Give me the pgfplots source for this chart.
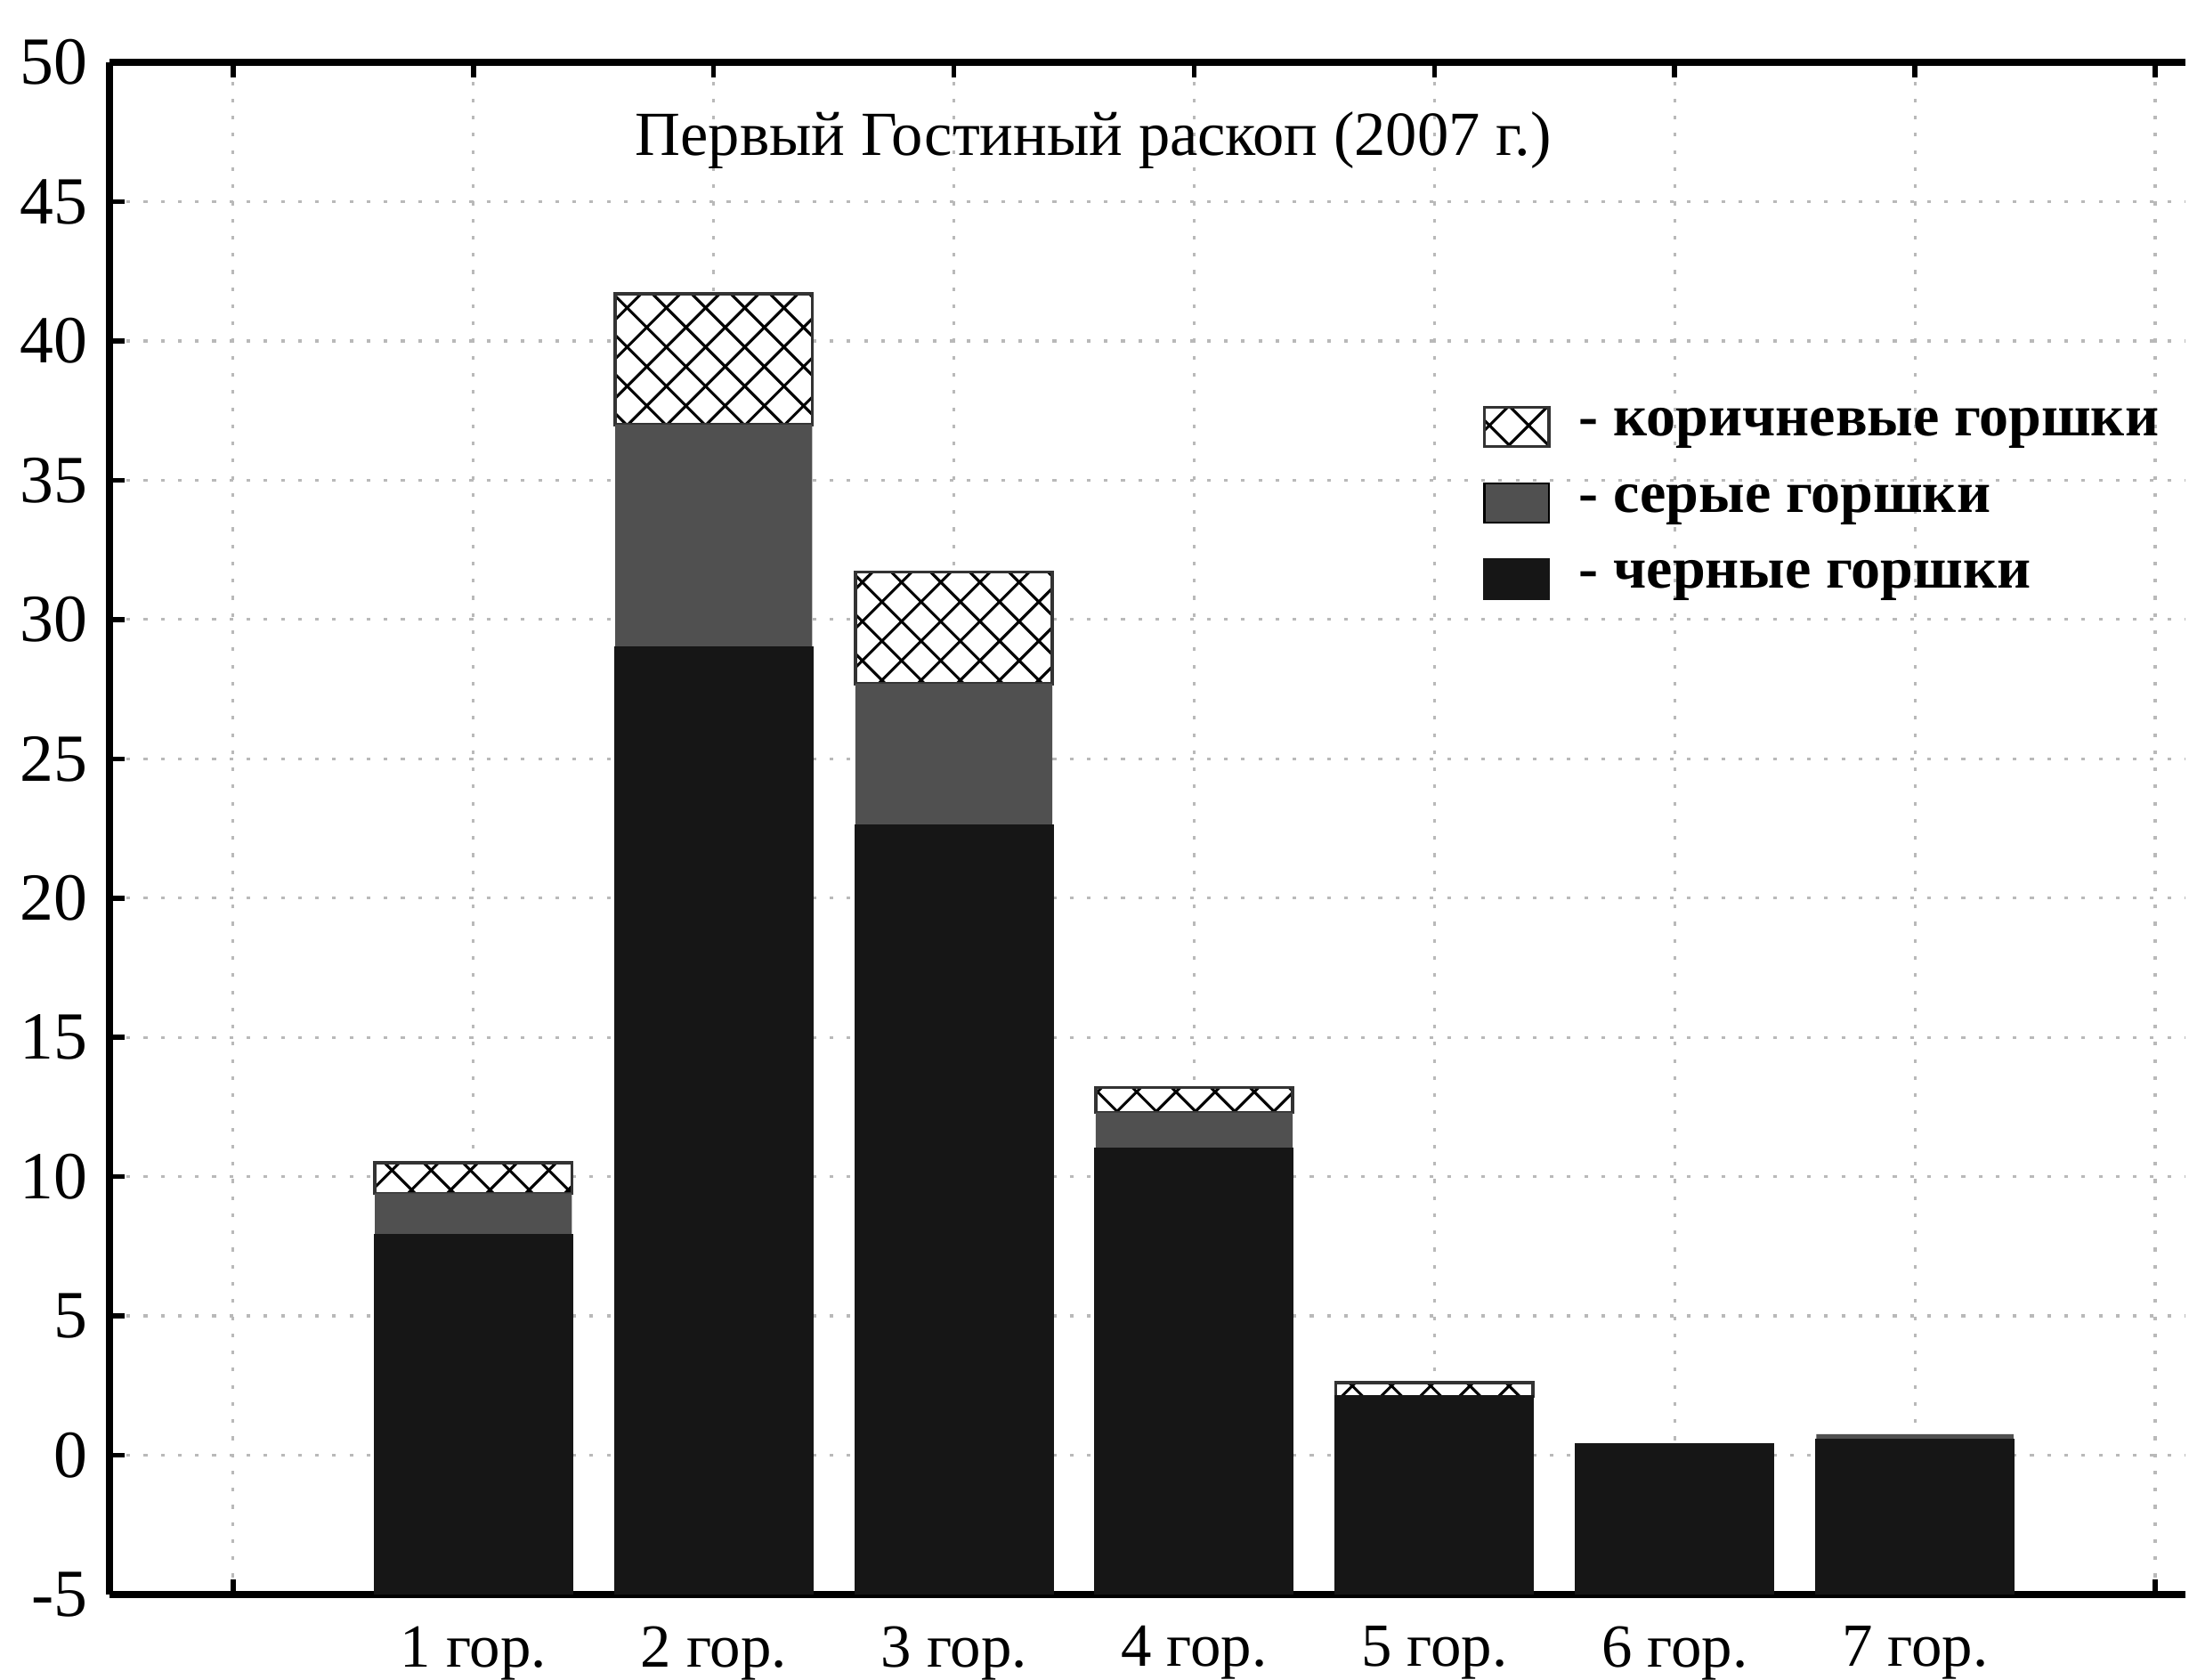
\documentclass[border=0pt]{standalone}
\usepackage{pgfplots}
\pgfplotsset{compat=1.18}
\usepackage{fontspec}
\setmainfont{Liberation Serif}
\usetikzlibrary{patterns}

\pgfdeclarepatternformonly{diagcross}{\pgfqpoint{-0.5pt}{-0.5pt}}{\pgfqpoint{6.9pt}{6.9pt}}{\pgfqpoint{6.4pt}{6.4pt}}{%
  \pgfsetlinewidth{0.45pt}%
  \pgfpathmoveto{\pgfqpoint{0pt}{0pt}}\pgfpathlineto{\pgfqpoint{6.4pt}{6.4pt}}%
  \pgfpathmoveto{\pgfqpoint{0pt}{6.4pt}}\pgfpathlineto{\pgfqpoint{6.4pt}{0pt}}%
  \pgfusepath{stroke}}

\definecolor{barblack}{RGB}{22,22,22}
\definecolor{bargray}{RGB}{80,80,80}

\pgfplotsset{common/.style={
  scale only axis, width=339pt, height=250.1pt,
  xmin=-0.515, xmax=8.127, ymin=-5, ymax=50,
  bar width=0.82}}

\begin{document}
\begin{tikzpicture}
\begin{axis}[common, ybar stacked,
  axis x line=box, axis y line=left,
  y axis line style={-},
  axis line style={line width=1.1pt},
  tick align=inside, major tick length=2.5pt,
  tick style={black, line width=0.8pt},
  xtick={0,...,8},
  xticklabels={,1 гор.,2 гор.,3 гор.,4 гор.,5 гор.,6 гор.,7 гор.,},
  ytick={-5,0,...,50},
  /pgf/number format/assume math mode=true,
  yticklabel style={font=\fontsize{11}{13}\selectfont},
  xticklabel style={font=\fontsize{10}{12}\selectfont, inner sep=0pt, yshift=-5pt},
  grid=major,
  major grid style={dash pattern=on 0.6pt off 2.2pt, gray!55, line width=0.45pt},
  reverse legend,
  legend style={at={(rel axis cs:0.661,0.783)}, anchor=north west,
    draw=none, fill=none, inner sep=0pt,
    font=\bfseries\fontsize{9.6}{11.5}\selectfont,
    row sep=2.4pt, cells={anchor=west}},
  legend image code/.code={\draw[#1] (0pt,-3.2pt) rectangle (10.5pt,3.2pt);},
]
\addplot[fill=barblack, draw=barblack] coordinates {(1,7.9) (2,29.0) (3,22.6) (4,11.0) (5,2.1) (6,0.4) (7,0.55)};
\addlegendentry{\hspace{2.7pt}- черные горшки}
\addplot[fill=bargray, draw=none] coordinates {(1,1.5) (2,8.0) (3,5.1) (4,1.3) (5,0) (6,0) (7,0.2)};
\addlegendentry{\hspace{2.7pt}- серые горшки}
\addplot[fill=white, draw=black!80, line width=0.5pt, postaction={pattern=diagcross}] coordinates {(1,1.1) (2,4.7) (3,4.0) (4,0.9) (5,0.5) (6,0) (7,0)};
\addlegendentry{\hspace{2.7pt}- коричневые горшки}
\node[font=\fontsize{10.25}{12}\selectfont] at (axis cs:3.58,47.2) {Первый Гостиный раскоп (2007 г.)};
\end{axis}
\begin{axis}[common, ybar, hide axis]
\addplot[fill=barblack, draw=barblack] coordinates {(1,-5) (2,-5) (3,-5) (4,-5) (5,-5) (6,-5) (7,-5)};
\end{axis}
\path ([yshift=10.2pt]current axis.north);
\end{tikzpicture}
\end{document}
